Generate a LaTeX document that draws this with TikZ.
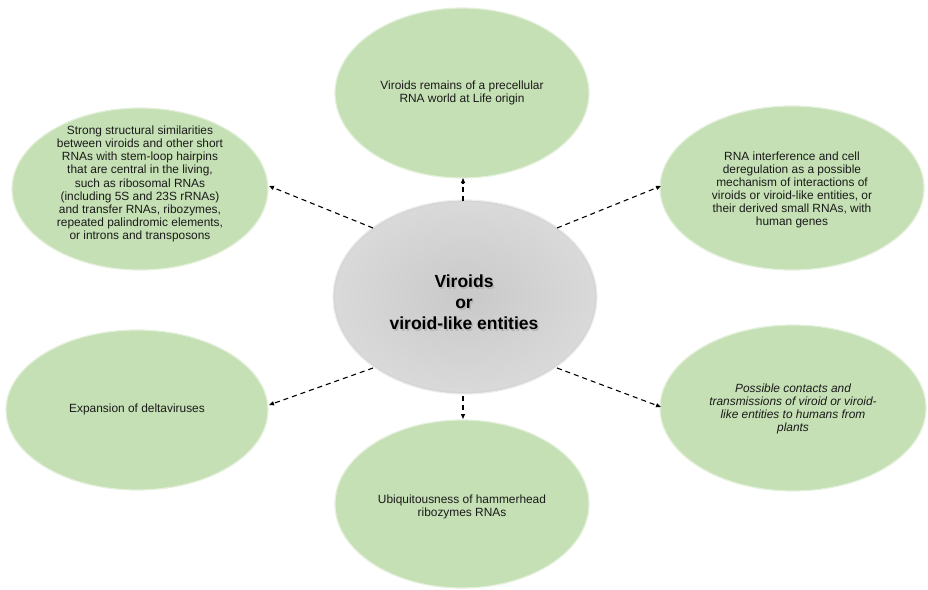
\documentclass[tikz,border=0pt]{standalone}
\usepackage{fontspec}
\setmainfont{Liberation Sans}
\usetikzlibrary{arrows.meta}
\definecolor{leaf}{HTML}{C5E0B4}
\definecolor{leafrim}{HTML}{E4F0DC}
\definecolor{hub}{HTML}{C9C9C9}
\definecolor{hubrim}{HTML}{EDEDED}
\definecolor{ink}{HTML}{1A1A1A}
\tikzset{
  topictext/.style={align=center, text=ink, font=\fontsize{11.9}{13.1}\selectfont},
  topicfill/.style={fill=leaf},
  topicrim/.style={draw=leafrim, line width=1.2pt},
  link/.style={-{Triangle[length=5pt,width=4pt]}, dashed,
    dash pattern=on 5pt off 4pt, line width=1.1pt, black},
  hubfont/.style={align=center, font=\fontsize{17.5}{21}\selectfont\bfseries},
}
\begin{document}
\begin{tikzpicture}[x=1pt,y=-1pt]
\useasboundingbox (0,0) rectangle (928,589);
% centre hub
\fill[hub!80!white] (465,297) ellipse [x radius=132, y radius=97];
\shade[inner color=hub, outer color=hub!70!white] (465,297) ellipse [x radius=130, y radius=95];
\draw[hubrim, line width=1.2pt] (465,297) ellipse [x radius=132, y radius=97];
\node[inner sep=0pt, minimum width=264pt, minimum height=194pt] (hub) at (465,297) {};
\node[hubfont, text=black!30, opacity=0.8] at (465.5,304)
  {Viroids\\or\\viroid-like entities};
\node[hubfont, text=black] (hubtext) at (464,302.5)
  {Viroids\\or\\viroid-like entities};
% surrounding topics
\path[topicfill] (462,93) ellipse [x radius=127, y radius=85];
\path[topicrim] (462,93) ellipse [x radius=127, y radius=85];
\node[topictext] (top) at (462,93)
  {Viroids remains of a precellular\\RNA world at Life origin};
\coordinate (topb) at (463,178);

\path[topicfill] (140,189) ellipse [x radius=128, y radius=81];
\path[topicrim] (140,189) ellipse [x radius=128, y radius=81];
\node[topictext] (tl) at (140,184)
  {Strong structural similarities\\between viroids and other short\\RNAs with stem-loop hairpins\\that are central in the living,\\such as ribosomal RNAs\\(including 5S and 23S rRNAs)\\and transfer RNAs, ribozymes,\\repeated palindromic elements,\\or introns and transposons};
\coordinate (tle) at (269,186);

\path[topicfill] (792,188) ellipse [x radius=132, y radius=82];
\path[topicrim] (792,188) ellipse [x radius=132, y radius=82];
\node[topictext] (tr) at (792,190)
  {RNA interference and cell\\deregulation as a possible\\mechanism of interactions of\\viroids or viroid-like entities, or\\their derived small RNAs, with\\human genes};
\coordinate (tre) at (661,186);

\path[topicfill] (137,410) ellipse [x radius=131, y radius=80];
\path[topicrim] (137,410) ellipse [x radius=131, y radius=80];
\node[topictext] (ml) at (137,409)
  {Expansion of deltaviruses};
\coordinate (mle) at (269,405);

\path[topicfill] (793,408) ellipse [x radius=133, y radius=83];
\path[topicrim] (793,408) ellipse [x radius=133, y radius=83];
\node[topictext, font=\fontsize{11.9}{13.1}\selectfont\itshape] (br) at (793,409)
  {Possible contacts and\\transmissions of viroid or viroid-\\like entities to humans from\\plants};
\coordinate (bre) at (661,407);

\path[topicfill] (462,504) ellipse [x radius=127, y radius=84];
\path[topicrim] (462,504) ellipse [x radius=127, y radius=84];
\node[topictext] (bot) at (462,507)
  {Ubiquitousness of hammerhead\\ribozymes RNAs};
\coordinate (bott) at (463,419);

% connectors from the hub
\coordinate (h1) at (463,201);
\coordinate (h2) at (373,228);
\coordinate (h3) at (557,228);
\coordinate (h4) at (373,368);
\coordinate (h5) at (557,368);
\coordinate (h6) at (463,396);
\draw[link] (h1) -- (topb);
\draw[link] (h2) -- (tle);
\draw[link] (h3) -- (tre);
\draw[link] (h4) -- (mle);
\draw[link] (h5) -- (bre);
\draw[link] (h6) -- (bott);
\end{tikzpicture}
\end{document}
